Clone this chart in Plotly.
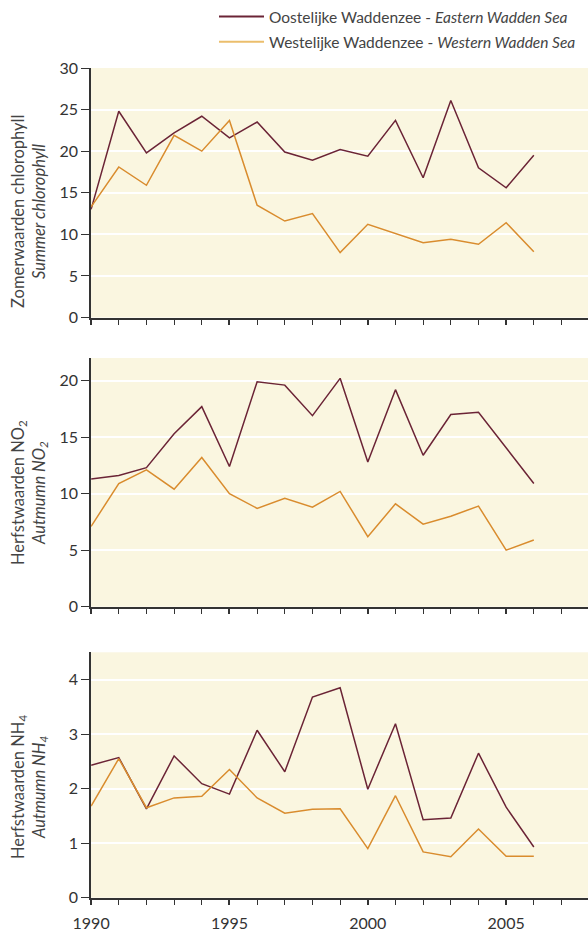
import plotly.graph_objects as go

years = list(range(1990, 2007))

chl_east = [13.0, 24.8, 19.8, 22.2, 24.2, 21.6, 23.5, 19.9, 18.9, 20.2, 19.4, 23.7, 16.8, 26.1, 18.0, 15.6, 19.5]
chl_west = [13.3, 18.1, 15.9, 21.9, 20.0, 23.7, 13.5, 11.6, 12.5, 7.8, 11.2, 10.1, 9.0, 9.4, 8.8, 11.4, 7.9]

no2_east = [11.3, 11.6, 12.3, 15.3, 17.7, 12.4, 19.9, 19.6, 16.9, 20.2, 12.8, 19.2, 13.4, 17.0, 17.2, 14.1, 10.9]
no2_west = [7.1, 10.9, 12.1, 10.4, 13.2, 10.0, 8.7, 9.6, 8.8, 10.2, 6.2, 9.1, 7.3, 8.0, 8.9, 5.0, 5.9]

nh4_east = [2.43, 2.57, 1.63, 2.60, 2.09, 1.90, 3.07, 2.31, 3.68, 3.85, 1.99, 3.19, 1.43, 1.46, 2.65, 1.66, 0.93]
nh4_west = [1.68, 2.55, 1.65, 1.83, 1.86, 2.35, 1.83, 1.55, 1.62, 1.63, 0.90, 1.87, 0.84, 0.75, 1.26, 0.76, 0.76]

x_tick_vals = [1990, 1995, 2000, 2005]
x_tick_text = ["1990", "1995", "2000", "2005"]
x_minor_vals = list(range(1990, 2008))

series_names = ["Oostelijke Waddenzee - <i>Eastern Wadden Sea</i>",
                "Westelijke Waddenzee - <i>Western Wadden Sea</i>"]

EAST = "#6B2436"
WEST = "#D98C2E"
WEST_LEG = "#EBBE6C"
BG = "#FAF6E0"
AX = "#333333"
FONT = "Lato"

fig = go.Figure()

panels = [
    (chl_east, chl_west, "", "y"),
    (no2_east, no2_west, "2", "y2"),
    (nh4_east, nh4_west, "3", "y3"),
]
for east, west, suf, yref in panels:
    xa = "x" + suf
    fig.add_trace(go.Scatter(x=years, y=east, mode="lines", line=dict(color=EAST, width=1.5),
                             xaxis=xa, yaxis=yref, showlegend=False))
    fig.add_trace(go.Scatter(x=years, y=west, mode="lines", line=dict(color=WEST, width=1.5),
                             xaxis=xa, yaxis=yref, showlegend=False))

# legend entries
fig.add_trace(go.Scatter(x=[None], y=[None], mode="lines", line=dict(color=EAST, width=2),
                         name=series_names[0], showlegend=True, legendgroup="east"))
fig.add_trace(go.Scatter(x=[None], y=[None], mode="lines", line=dict(color=WEST_LEG, width=2),
                         name=series_names[1], showlegend=True, legendgroup="west"))

H = 932.0
W = 588.0
X0 = 91.1
PX_YEAR = 27.67
domains = [
    [1 - 317.5 / H, 1 - 68 / H],
    [1 - 606.7 / H, 1 - 358 / H],
    [1 - 897.7 / H, 1 - 652.3 / H],
]
xr = [1990, 1990 + (W - X0) / PX_YEAR]

def xaxis_cfg(anchor, labels):
    return dict(
        domain=[X0 / W, 1.0], range=xr, anchor=anchor, automargin=False,
        showline=True, linecolor=AX, linewidth=1.5,
        showgrid=False, zeroline=False,
        tickmode="array", tickvals=x_tick_vals, ticktext=x_tick_text,
        showticklabels=labels, ticklabelstandoff=4,
        ticks="outside", ticklen=6, tickwidth=2, tickcolor=AX,
        tickfont=dict(family=FONT, size=16, color=AX),
        minor=dict(tickmode="array", tickvals=x_minor_vals, ticks="outside",
                   ticklen=6, tickwidth=1, tickcolor=AX, showgrid=False),
    )

def yaxis_cfg(anchor, dom, rng, tv):
    return dict(
        domain=dom, range=rng, anchor=anchor, automargin=False,
        showline=True, linecolor=AX, linewidth=1.5,
        showgrid=True, gridcolor="white", gridwidth=1.5,
        zeroline=False,
        tickmode="array", tickvals=tv,
        ticks="outside", ticklen=8, tickwidth=1, tickcolor=AX,
        tickfont=dict(family=FONT, size=16, color=AX),
    )

fig.update_layout(
    width=588, height=932,
    margin=dict(l=0, r=0, t=0, b=0, autoexpand=False),
    paper_bgcolor="white",
    plot_bgcolor=BG,
    font=dict(family=FONT, color=AX),
    xaxis=xaxis_cfg("y", False),
    xaxis2=xaxis_cfg("y2", False),
    xaxis3=xaxis_cfg("y3", True),
    yaxis=yaxis_cfg("x", domains[0], [0, 30], [0, 5, 10, 15, 20, 25, 30]),
    yaxis2=yaxis_cfg("x2", domains[1], [0, 22], [0, 5, 10, 15, 20]),
    yaxis3=yaxis_cfg("x3", domains[2], [0, 4.5], [0, 1, 2, 3, 4]),
    legend=dict(x=214 / W, y=1.0, xanchor="left", yanchor="top",
                bgcolor="rgba(0,0,0,0)", font=dict(family=FONT, size=15.5, color="#444444"),
                itemwidth=45, tracegroupgap=2),
    showlegend=True,
)

labels = [
    ("Zomerwaarden chlorophyll", "<i>Summer chlorophyll</i>", 212),
    ("Herfstwaarden NO<sub>2</sub>", "<i>Autmumn NO<sub>2</sub></i>", 493),
    ("Herfstwaarden NH<sub>4</sub>", "<i>Autmumn NH<sub>4</sub></i>", 787),
]
for l1, l2, yc in labels:
    fig.add_annotation(text=l1, x=18 / W, y=1 - yc / H, xref="paper", yref="paper",
                       textangle=-90, showarrow=False, xanchor="center", yanchor="middle",
                       font=dict(family=FONT, size=16.5, color="#444444"))
    fig.add_annotation(text=l2, x=39 / W, y=1 - yc / H, xref="paper", yref="paper",
                       textangle=-90, showarrow=False, xanchor="center", yanchor="middle",
                       font=dict(family=FONT, size=16.5, color="#444444"))

fig.write_html("out.html")
